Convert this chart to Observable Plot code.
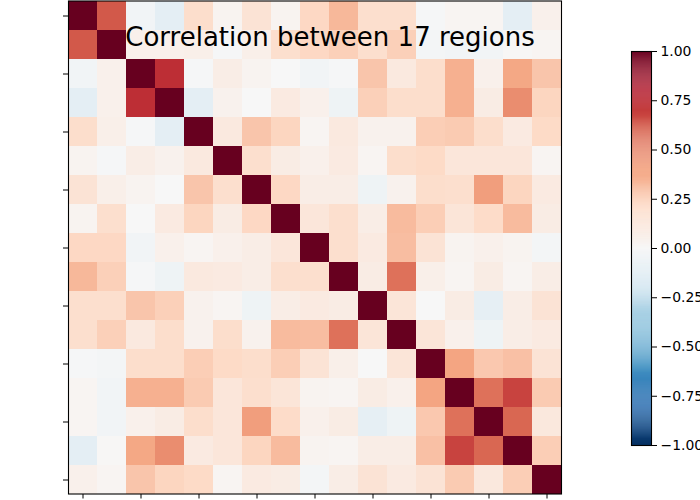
<!DOCTYPE html>
<html>
<head>
<meta charset="utf-8">
<script src="https://cdn.jsdelivr.net/npm/d3@7"></script>
<script src="https://cdn.jsdelivr.net/npm/@observablehq/plot@0.6"></script>
<style>
  html, body { margin: 0; padding: 0; background: #fff; }
  #wrap { position: relative; width: 700px; height: 500px; overflow: hidden; font-family: "DejaVu Sans", sans-serif; }
  #wrap > svg, #wrap > figure { position: absolute; margin: 0; }
  #title { position: absolute; left: 0; width: 660px; top: 24px; text-align: center; font-size: 26px; line-height: 26px; color: #000; white-space: nowrap; }
</style>
</head>
<body>
<div id="wrap"></div>
<script>
const titleText = "Correlation between 17 regions";
const regions = [0, 1, 2, 3, 4, 5, 6, 7, 8, 9, 10, 11, 12, 13, 14, 15, 16];
const regionTicks = [0, 2, 4, 6, 8, 10, 12, 14, 16];
const colorbarTicks = [-1, -0.75, -0.5, -0.25, 0, 0.25, 0.5, 0.75, 1];
const rdbuColors = ["#053061","#2166ac","#4393c3","#92c5de","#d1e5f0","#f7f7f7","#fddbc7","#f4a582","#d6604d","#b2182b","#67001f"];

const row0  = [1, 0.62, -0.03, -0.1, 0.18, 0.03, 0.14, 0.03, 0.21, 0.33, 0.17, 0.17, -0.01, 0.02, 0.02, -0.1, 0.05];
const row1  = [0.62, 1, 0.05, 0.05, 0.06, -0.01, 0.06, 0.17, 0.21, 0.24, 0.17, 0.24, -0.02, -0.03, -0.03, 0.01, 0.02];
const row2  = [-0.03, 0.05, 1, 0.74, -0.01, 0.07, 0.03, 0.0, -0.03, -0.01, 0.28, 0.1, 0.18, 0.36, 0.05, 0.39, 0.28];
const row3  = [-0.1, 0.05, 0.74, 1, -0.1, 0.04, 0.0, 0.09, 0.05, -0.05, 0.24, 0.18, 0.18, 0.36, 0.08, 0.47, 0.22];
const row4  = [0.18, 0.06, -0.01, -0.1, 1, 0.1, 0.28, 0.22, 0.02, 0.1, 0.04, 0.04, 0.25, 0.26, 0.18, 0.09, 0.2];
const row5  = [0.03, -0.01, 0.07, 0.04, 0.1, 1, 0.17, 0.08, 0.05, 0.09, 0.02, 0.18, 0.2, 0.12, 0.12, 0.12, 0.02];
const row6  = [0.14, 0.06, 0.03, 0.0, 0.28, 0.17, 1, 0.21, 0.07, 0.07, -0.05, 0.04, 0.18, 0.17, 0.42, 0.22, 0.09];
const row7  = [0.03, 0.17, 0.0, 0.09, 0.22, 0.08, 0.21, 1, 0.12, 0.17, 0.07, 0.32, 0.25, 0.13, 0.19, 0.32, 0.08];
const row8  = [0.21, 0.21, -0.03, 0.05, 0.02, 0.05, 0.07, 0.12, 1, 0.17, 0.09, 0.31, 0.14, 0.03, 0.05, 0.03, -0.02];
const row9  = [0.33, 0.24, -0.01, -0.05, 0.1, 0.09, 0.07, 0.17, 0.17, 1, 0.08, 0.55, 0.06, 0.02, 0.08, 0.02, 0.07];
const row10 = [0.17, 0.17, 0.28, 0.24, 0.04, 0.02, -0.05, 0.07, 0.09, 0.08, 1, 0.13, 0.0, 0.08, -0.09, 0.07, 0.14];
const row11 = [0.17, 0.24, 0.1, 0.18, 0.04, 0.18, 0.04, 0.32, 0.31, 0.55, 0.13, 1, 0.13, 0.05, -0.05, 0.07, 0.09];
const row12 = [-0.01, -0.02, 0.18, 0.18, 0.25, 0.2, 0.18, 0.25, 0.14, 0.06, 0.0, 0.13, 1, 0.4, 0.27, 0.3, 0.14];
const row13 = [0.02, -0.03, 0.36, 0.36, 0.26, 0.12, 0.17, 0.13, 0.03, 0.02, 0.08, 0.05, 0.4, 1, 0.55, 0.68, 0.26];
const row14 = [0.02, -0.03, 0.05, 0.08, 0.18, 0.12, 0.42, 0.19, 0.05, 0.08, -0.09, -0.05, 0.27, 0.55, 1, 0.58, 0.11];
const row15 = [-0.1, 0.01, 0.39, 0.47, 0.09, 0.12, 0.22, 0.32, 0.03, 0.02, 0.07, 0.07, 0.3, 0.68, 0.58, 1, 0.25];
const row16 = [0.05, 0.02, 0.28, 0.22, 0.2, 0.02, 0.09, 0.08, -0.02, 0.07, 0.14, 0.09, 0.14, 0.26, 0.11, 0.25, 1];

const matrix = [row0,row1,row2,row3,row4,row5,row6,row7,row8,row9,row10,row11,row12,row13,row14,row15,row16];
const cells = [];
matrix.forEach((row, i) => row.forEach((v, j) => cells.push({i: regions[i], j: regions[j], v})));

const colorOpts = {type: "linear", domain: [-1, 1], interpolate: d3.piecewise(d3.interpolateRgb, rdbuColors)};
const fontStyle = {fontFamily: "DejaVu Sans, sans-serif", fontSize: "13.9px", color: "#000", background: "transparent", overflow: "visible"};

const heat = Plot.plot({
  width: 700,
  height: 500,
  marginLeft: 68,
  marginRight: 139,
  marginTop: 0.5,
  marginBottom: 6.5,
  style: fontStyle,
  x: {type: "band", domain: regions, padding: 0, axis: "bottom", ticks: regionTicks, tickFormat: () => "", tickSize: 5, label: null},
  y: {type: "band", domain: regions, padding: 0, axis: "left", ticks: regionTicks, tickFormat: () => "", tickSize: 5, label: null},
  color: colorOpts,
  marks: [
    Plot.cell(cells, {x: "j", y: "i", fill: "v", inset: 0, shapeRendering: "crispEdges"}),
    Plot.frame({stroke: "#000", strokeWidth: 1.1})
  ]
});
heat.style.left = "0px";
heat.style.top = "0px";

const rampStops = d3.range(-1, 1, 0.005);
const bar = Plot.plot({
  width: 100,
  height: 500,
  marginLeft: 31,
  marginRight: 49,
  marginTop: 51,
  marginBottom: 55,
  style: fontStyle,
  x: {domain: [0, 1], axis: null},
  y: {domain: [-1, 1], axis: "right", ticks: colorbarTicks, tickFormat: d3.format(".2f"), tickSize: 5, tickPadding: 4, label: null},
  color: colorOpts,
  marks: [
    Plot.rect(rampStops, {x1: 0, x2: 1, y1: d => d, y2: d => Math.min(1, d + 0.0055), fill: d => d + 0.0025}),
    Plot.frame({stroke: "#000", strokeWidth: 1.1})
  ]
});
bar.style.left = "600px";
bar.style.top = "0px";

const wrap = document.getElementById("wrap");
wrap.appendChild(heat);
wrap.appendChild(bar);
const title = document.createElement("div");
title.id = "title";
title.textContent = titleText;
wrap.appendChild(title);
</script>
</body>
</html>
